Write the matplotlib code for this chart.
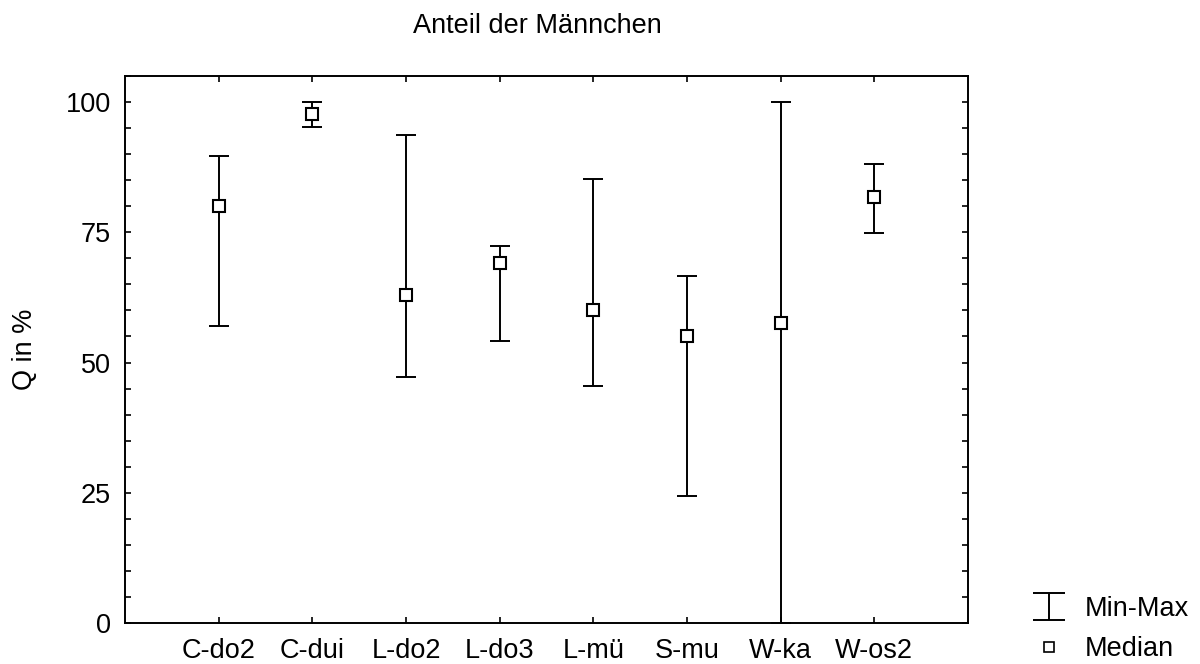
import numpy as np
import matplotlib.pyplot as plt
from matplotlib.lines import Line2D
from matplotlib.ticker import MultipleLocator

plt.rcParams['font.family'] = ['Liberation Sans', 'DejaVu Sans']

# Share of males per site: min, median, max (in %)
sites = ['C-do2', 'C-dui', 'L-do2', 'L-do3', 'L-mü', 'S-mu', 'W-ka', 'W-os2']
q_min = np.array([57.0, 95.2, 47.2, 54.1, 45.4, 24.3, 0.0, 74.9])
q_median = np.array([80.0, 97.8, 63.0, 69.2, 60.1, 55.0, 57.6, 81.8])
q_max = np.array([89.6, 100.0, 93.6, 72.4, 85.2, 66.6, 100.0, 88.2])

fs = 19.5

fig = plt.figure(figsize=(12, 6.64), dpi=100)
ax = fig.add_axes([125 / 1200, 1 - 623 / 664, 843 / 1200, 547 / 664])

x = np.arange(len(sites))
ax.errorbar(x, q_median, yerr=[q_median - q_min, q_max - q_median],
            fmt='none', ecolor='black', elinewidth=1.4, capsize=7.5, capthick=1.4)
ax.plot(x, q_median, 's', ms=8.5, mfc='white', mec='black', mew=1.5, zorder=3)

ax.set_xlim(-1, 8)
ax.set_ylim(0, 105)
ax.set_xticks(x)
ax.set_xticklabels(sites)
ax.yaxis.set_major_locator(MultipleLocator(25))
ax.yaxis.set_minor_locator(MultipleLocator(5))
ax.tick_params(which='both', direction='in', top=True, right=True,
               labelsize=fs, width=1.2, length=4)
ax.tick_params(axis='y', pad=10)
ax.tick_params(axis='x', pad=11)
for s in ax.spines.values():
    s.set_linewidth(1.4)

ax.set_ylabel('Q in %', fontsize=fs, labelpad=20)
fig.text(537 / 1200, 1 - 33 / 664, 'Anteil der Männchen', fontsize=fs,
         ha='center', va='baseline')

# legend outside the axes, lower right
eb = ax.errorbar([np.nan], [np.nan], yerr=[[1], [1]], fmt='none', ecolor='black',
                 elinewidth=1.4, capsize=11.5, capthick=1.4)
med = Line2D([], [], ls='none', marker='s', ms=6.5, mfc='white', mec='black', mew=1.2)
fig.legend([eb, med], ['Min-Max', 'Median'], loc='center left',
           bbox_to_anchor=(998 / 1200, 1 - 629 / 664), frameon=False,
           fontsize=fs, handlelength=2.0, handletextpad=0.3, labelspacing=0.55)

fig.savefig('out.png', dpi=100)
